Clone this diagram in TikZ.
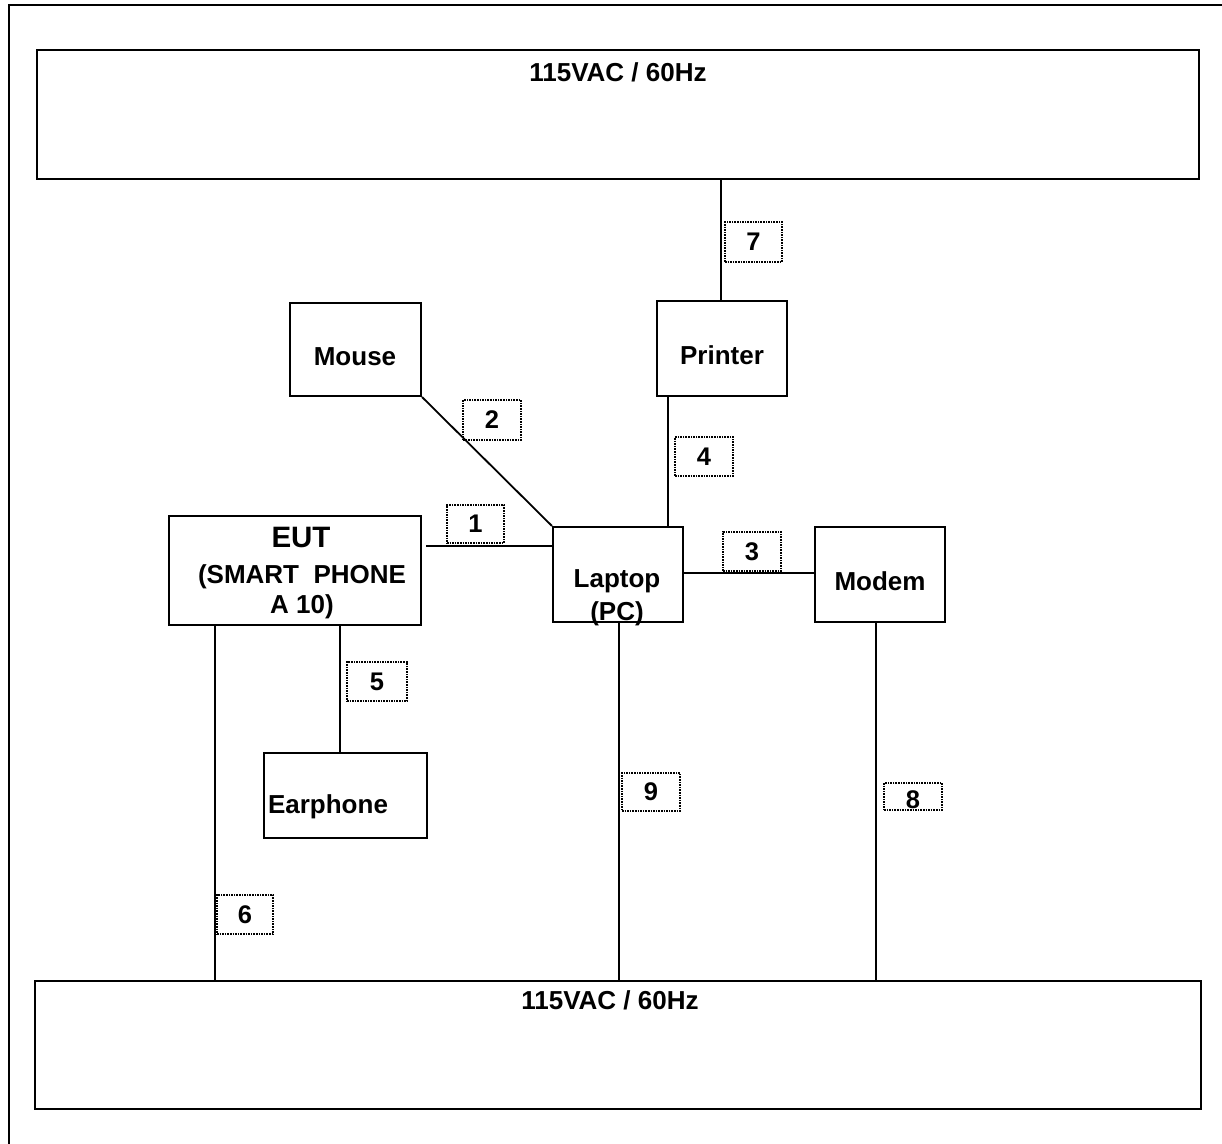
\documentclass[tikz,border=0pt]{standalone}
\usepackage{fontspec}
\setmainfont{Liberation Sans}
\begin{document}
\begin{tikzpicture}[x=1pt,y=-1pt,
  box/.style={draw,line width=2.2pt,inner sep=0pt},
  lbl/.style={draw,line width=1.6pt,densely dotted,inner sep=0pt,font=\fontsize{25.5}{28}\selectfont\bfseries},
  txt/.style={font=\fontsize{26}{29}\selectfont\bfseries,inner sep=0pt},
  wire/.style={line width=1.8pt}]
\useasboundingbox (0,0) rectangle (1222,1143);
\fill[white] (0,0) rectangle (1222,1143);
% outer frame
\draw[line width=2pt] (9,1150) -- (9,5) -- (1230,5);
% boxes
\node[box,minimum width=1162pt,minimum height=129pt] (top) at (618,114.5) {};
\node[txt] at (618,72) {115VAC / 60Hz};
\node[box,minimum width=1166pt,minimum height=128pt] (bot) at (618,1045) {};
\node[txt] at (610,1000) {115VAC / 60Hz};
\node[box,minimum width=131pt,minimum height=93pt] (mouse) at (355.5,349.5) {};
\node[txt] at (355,357) {Mouse};
\node[box,minimum width=130pt,minimum height=95pt] (printer) at (722,348.5) {};
\node[txt] at (722,355) {Printer};
\node[box,minimum width=252pt,minimum height=109pt] (eut) at (295,570.5) {};
\node[font=\fontsize{29.5}{32}\selectfont\bfseries,inner sep=0pt] at (301,537) {EUT};
\node[txt] at (302,577) {(SMART\ \ PHONE};
\node[txt] at (302,607) {A 10)};
\node[box,minimum width=130pt,minimum height=95pt] (laptop) at (618,574.5) {};
\node[txt] at (617,581) {Laptop};
\node[txt] at (617,614) {(PC)};
\node[box,minimum width=130pt,minimum height=95pt] (modem) at (880,574.5) {};
\node[txt] at (880,581) {Modem};
\node[box,minimum width=163pt,minimum height=85pt] (ear) at (345.5,795.5) {};
\node[txt] at (328,807) {Earphone};
% wires
\coordinate (p7) at (721,179);
\draw[wire] (top.south -| p7) -- (printer.north -| p7);
\draw[wire] (mouse.south east) -- (laptop.north west);
\coordinate (p4) at (668,0);
\draw[wire] (printer.south -| p4) -- (laptop.north -| p4);
\coordinate (p1) at (0,546);
\draw[wire] ([xshift=4pt]eut.east |- p1) -- ([xshift=2pt]laptop.west |- p1);
\coordinate (p3) at (0,573);
\draw[wire] (laptop.east |- p3) -- (modem.west |- p3);
\coordinate (p5) at (340,0);
\draw[wire] (eut.south -| p5) -- (ear.north -| p5);
\coordinate (p6) at (215,0);
\draw[wire] (eut.south -| p6) -- (bot.north -| p6);
\coordinate (p9) at (619,0);
\draw[wire] (laptop.south -| p9) -- (bot.north -| p9);
\coordinate (p8) at (876,0);
\draw[wire] (modem.south -| p8) -- (bot.north -| p8);
% labels
\node[lbl,minimum width=57pt,minimum height=40pt] (l7) at (753.5,242) {7};
\node[lbl,minimum width=58pt,minimum height=40pt] (l2) at (492,420) {2};
\node[lbl,minimum width=58pt,minimum height=39pt] (l4) at (704,456.5) {4};
\node[lbl,minimum width=57pt,minimum height=38pt] (l1) at (475.5,524) {1};
\node[lbl,minimum width=58pt,minimum height=39pt] (l3) at (752,551.5) {3};
\node[lbl,minimum width=60pt,minimum height=39pt] (l5) at (377,681.5) {5};
\node[lbl,minimum width=56pt,minimum height=39pt] (l6) at (245,914.5) {6};
\node[lbl,minimum width=58pt,minimum height=38pt] (l9) at (651,792) {9};
\node[lbl,minimum width=58pt,minimum height=27pt,text depth=0pt] (l8) at (913,796.5) {\raisebox{-6pt}{8}};
\end{tikzpicture}
\end{document}
